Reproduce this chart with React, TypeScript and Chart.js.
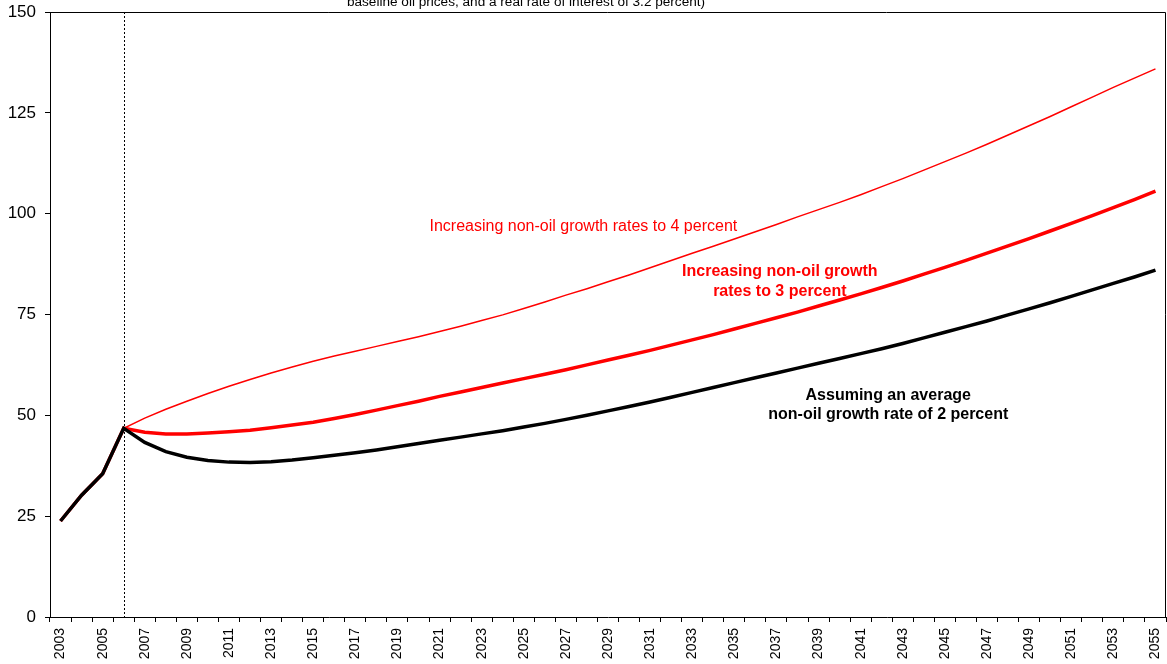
import React, { useEffect, useRef } from "react";
import { Chart, registerables } from "chart.js";

Chart.register(...registerables);

const years = [
  "2003", "2004", "2005", "2006", "2007", "2008", "2009", "2010", "2011", "2012",
  "2013", "2014", "2015", "2016", "2017", "2018", "2019", "2020", "2021", "2022",
  "2023", "2024", "2025", "2026", "2027", "2028", "2029", "2030", "2031", "2032",
  "2033", "2034", "2035", "2036", "2037", "2038", "2039", "2040", "2041", "2042",
  "2043", "2044", "2045", "2046", "2047", "2048", "2049", "2050", "2051", "2052",
  "2053", "2054", "2055",
];

// 2003-2006, shared by all scenarios
const historical = [23.8, 30.2, 35.5, 46.8];

// 2007-2055 projections
const growth2 = [
  43.3, 41.0, 39.6, 38.8, 38.4, 38.3, 38.5, 38.9, 39.5, 40.1,
  40.7, 41.4, 42.2, 43.0, 43.8, 44.6, 45.4, 46.2, 47.1, 48.0,
  49.0, 50.0, 51.1, 52.2, 53.3, 54.5, 55.7, 56.9, 58.1, 59.3,
  60.5, 61.7, 62.9, 64.1, 65.3, 66.5, 67.8, 69.2, 70.6, 72.0,
  73.4, 74.9, 76.4, 77.9, 79.5, 81.1, 82.7, 84.3, 86.0,
];
const growth3 = [
  45.8, 45.4, 45.4, 45.6, 45.9, 46.3, 46.9, 47.6, 48.3, 49.2,
  50.2, 51.3, 52.4, 53.5, 54.7, 55.8, 56.9, 58.0, 59.1, 60.2,
  61.3, 62.5, 63.7, 64.9, 66.1, 67.4, 68.7, 70.0, 71.4, 72.8,
  74.2, 75.6, 77.1, 78.6, 80.1, 81.7, 83.3, 85.0, 86.7, 88.4,
  90.2, 92.0, 93.8, 95.7, 97.6, 99.5, 101.5, 103.5, 105.6,
];
const growth4 = [
  49.3, 51.5, 53.5, 55.4, 57.2, 58.9, 60.5, 62.0, 63.4, 64.7,
  65.9, 67.1, 68.3, 69.5, 70.8, 72.1, 73.5, 74.9, 76.5, 78.1,
  79.8, 81.4, 83.1, 84.8, 86.6, 88.4, 90.2, 91.9, 93.7, 95.5,
  97.3, 99.2, 101.0, 102.8, 104.7, 106.7, 108.7, 110.8, 112.9, 115.0,
  117.2, 119.5, 121.8, 124.1, 126.5, 128.9, 131.3, 133.6, 135.9,
];

const yTicks = [0, 25, 50, 75, 100, 125, 150];

const titleText = "baseline oil prices, and a real rate of interest of 3.2 percent)";

// annotation: x as category index, y as value
const annotations = [
  { lines: ["Increasing non-oil growth rates to 4 percent"], x: 24.83, y: [96.8], color: "#ff0000", bold: false },
  { lines: ["Increasing non-oil growth", "rates to 3 percent"], x: 34.16, y: [85.6, 80.7], color: "#ff0000", bold: true },
  { lines: ["Assuming an average", "non-oil growth rate of 2 percent"], x: 39.31, y: [55.0, 50.3], color: "#000000", bold: true },
];

const FONT = "'Liberation Sans', Arial, sans-serif";

export default function App() {
  const canvasRef = useRef<HTMLCanvasElement | null>(null);

  useEffect(() => {
    const canvas = canvasRef.current;
    if (!canvas) return;

    const extras = {
      id: "extras",
      afterDatasetsDraw(chart: any) {
        const { ctx, chartArea, scales } = chart;
        const xs = scales.x;
        const ys = scales.y;
        ctx.save();
        // frame (top & right)
        ctx.strokeStyle = "#000";
        ctx.lineWidth = 1;
        ctx.beginPath();
        ctx.moveTo(chartArea.left, chartArea.top + 0.5);
        ctx.lineTo(chartArea.right - 0.5, chartArea.top + 0.5);
        ctx.lineTo(chartArea.right - 0.5, chartArea.bottom);
        ctx.stroke();
        // dotted vertical line at 2006
        const xd = Math.round(xs.getPixelForValue(3)) + 0.5;
        ctx.setLineDash([2, 2]);
        ctx.beginPath();
        ctx.moveTo(xd, chartArea.top);
        ctx.lineTo(xd, chartArea.bottom);
        ctx.stroke();
        ctx.setLineDash([]);
        // title (cut off at top)
        ctx.fillStyle = "#000";
        ctx.font = `13.6px ${FONT}`;
        ctx.textAlign = "center";
        ctx.textBaseline = "alphabetic";
        ctx.fillText(titleText, 526, 6);
        // annotations
        ctx.textBaseline = "middle";
        annotations.forEach((a) => {
          ctx.fillStyle = a.color;
          ctx.font = `${a.bold ? "bold " : ""}16px ${FONT}`;
          const px = xs.getPixelForValue(a.x);
          a.lines.forEach((t, i) => {
            ctx.fillText(t, px, ys.getPixelForValue(a.y[i]));
          });
        });
        ctx.restore();
      },
    };

    const chart = new Chart(canvas, {
      type: "line",
      data: {
        labels: years,
        datasets: [
          {
            label: "2 percent",
            data: [...historical, ...growth2],
            borderColor: "#000000",
            borderWidth: 3.5,
            pointRadius: 0,
            tension: 0,
            fill: false,
          },
          {
            label: "3 percent",
            data: [...historical, ...growth3],
            borderColor: "#ff0000",
            borderWidth: 3.5,
            pointRadius: 0,
            tension: 0,
            fill: false,
          },
          {
            label: "4 percent",
            data: [...historical, ...growth4],
            borderColor: "#ff0000",
            borderWidth: 1.5,
            pointRadius: 0,
            tension: 0,
            fill: false,
          },
        ],
      },
      options: {
        animation: false,
        responsive: false,
        devicePixelRatio: 1,
        layout: { autoPadding: false, padding: { top: 12, right: 1, left: 0, bottom: 0 } },
        plugins: {
          legend: { display: false },
          tooltip: { enabled: false },
          title: { display: false },
        },
        scales: {
          x: {
            type: "category",
            offset: true,
            grid: {
              offset: true,
              drawOnChartArea: false,
              drawTicks: true,
              tickLength: 5,
              color: "#000",
            },
            border: { display: true, color: "#000", width: 1 },
            ticks: {
              autoSkip: false,
              maxRotation: 90,
              minRotation: 90,
              padding: 6,
              color: "#000",
              font: { family: FONT, size: 14 },
              callback: (_v: any, i: number) => (i % 2 === 0 ? years[i] : ""),
            },
            afterFit: (s: any) => {
              s.height = 47;
              s.paddingLeft = 0;
              s.paddingRight = 0;
            },
          },
          y: {
            min: 0,
            max: 150,
            afterBuildTicks: (s: any) => {
              s.ticks = yTicks.map((v) => ({ value: v }));
            },
            grid: {
              drawOnChartArea: false,
              drawTicks: true,
              tickLength: 5,
              color: "#000",
            },
            border: { display: true, color: "#000", width: 1 },
            ticks: {
              padding: 9,
              color: "#000",
              font: { family: FONT, size: 17 },
            },
            afterFit: (s: any) => {
              s.width = 50;
              s.paddingTop = 0;
              s.paddingBottom = 0;
            },
          },
        },
      },
      plugins: [extras],
    });

    return () => chart.destroy();
  }, []);

  return (
    <div style={{ position: "fixed", left: 0, top: 0, width: 1167, height: 664, background: "#fff" }}>
      <canvas ref={canvasRef} width={1167} height={664} style={{ width: 1167, height: 664, display: "block" }} />
    </div>
  );
}
